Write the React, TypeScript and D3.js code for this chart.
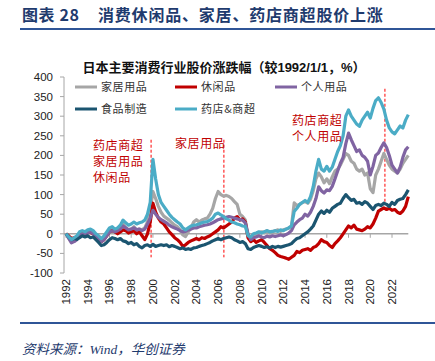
import React from 'react';
import * as d3 from 'd3';

// quarterly readings, starting 1992 Q1 (% change vs 1992/1/1)
const startYear = 1992;
const step = 0.25;

const household = [
  0, -10, -20, -15, -12, -2, 5, 2, 8, 10, 5, -5, -10, -18, -12, 0,
  8, 10, 5, 8, 15, 25, 15, 10, 12, 18, 10, 12, 10, 15, 30, 60,
  108, 90, 70, 55, 45, 40, 35, 28, 22, 18, 10, -3, -7, 5, 15, 30,
  36, 30, 35, 38, 40, 50, 65, 90, 108, 100, 96, 98, 95, 90, 82, 75,
  50, 44, 35, -5, -18, -10, 0, 2, 5, 3, 8, 2, 5, 8, 10, 6,
  10, 12, 15, 20, 79, 72, 75, 80, 82, 78, 88, 110, 140, 155, 145, 130,
  140, 128, 145, 160, 165, 175, 190, 205, 200, 185, 180, 165, 160, 165, 150, 155,
  115, 105, 150, 165, 185, 205, 190, 175, 165, 160, 155, 165, 180, 190, 200,
];

const leisure = [
  0, -5, -12, -10, -8, 0, 5, 0, 5, 3, 0, -8, -12, -20, -15, -5,
  5, 8, 5, 0, 5, 10, 8, 2, 5, 8, 0, 5, -5, -15, 0, 30,
  78, 55, 40, 30, 25, 15, 5, -2, -10, -15, -22, -32, -28, -22, -18, -15,
  -12, -15, -10, -12, -8, -5, 0, 5, 10, 18, 15, 20, 25, 30, 40, 44,
  35, 38, 30, -10, -20, -15, -22, -18, -15, -22, -30, -38, -42, -48, -55, -58,
  -60, -62, -65, -60, -55, -45, -48, -42, -40, -38, -42, -35, -32, -25, -15, -20,
  -22, -30, -35, -25, -18, -10, 0, 10, 20, 15, 22, 12, 10, 8, 12, 18,
  15, 25, 40, 58, 62, 66, 62, 65, 60, 62, 55, 52, 58, 70, 95,
];

const personal = [
  0, -12, -23, -20, -15, -5, 0, -3, 2, 5, 0, -8, -12, -20, -15, -5,
  5, 8, 5, 8, 12, 20, 15, 10, 12, 15, 10, 12, 8, 12, 25, 40,
  60, 50, 42, 36, 32, 28, 22, 18, 15, 12, 8, 5, 6, 10, 12, 15,
  15, 18, 20, 22, 23, 25, 28, 32, 36, 38, 40, 42, 44, 42, 40, 38,
  36, 35, 28, 0, -15, -10, -8, -5, -8, -10, -6, -8, -5, -7, -5, -3,
  -5, -2, 2, 8, 23, 30, 36, 40, 50, 45, 55, 70, 90, 120, 110, 104,
  112, 110, 121, 140, 160, 180, 195, 230, 257, 240, 225, 210, 214, 200, 195, 185,
  150, 172, 200, 206, 220, 232, 220, 200, 175, 165, 155, 170, 195, 214, 222,
];

const food = [
  0, -8, -15, -12, -14, -10, -5, -8, -5, -10, -8, -15, -22, -30, -28, -22,
  -15, -10, -12, -15, -12, -18, -20, -25, -22, -28, -25, -32, -36, -30, -28, -32,
  -27, -32, -30, -28, -30, -28, -33, -30, -32, -35, -38, -36, -40, -38, -40, -36,
  -35, -32, -30, -28, -25, -22, -18, -15, -12, -15, -12, -10, -8, -10, -15, -18,
  -22, -20, -25, -38, -40, -35, -32, -30, -32, -35, -33, -36, -32, -35, -32, -34,
  -32, -30, -28, -25, -18, -12, -10, -5, 0, 5, 12, 20, 35, 50, 58, 52,
  60, 55, 65, 70, 75, 78, 90, 100, 92, 85, 88, 78, 80, 75, 82, 78,
  70, 62, 72, 75, 72, 78, 75, 70, 80, 75, 85, 88, 90, 100, 112,
];

const drugstore = [
  0, -8, -15, -10, -5, 5, 8, 5, 10, 12, 8, 0, -5, -12, -5, 5,
  15, 18, 12, 15, 22, 35, 28, 22, 25, 30, 25, 28, 30, 35, 50, 80,
  190, 140, 100, 80, 70, 60, 50, 42, 36, 30, 25, 15, 10, 15, 20, 22,
  23, 25, 28, 30, 31, 35, 40, 50, 53, 48, 44, 38, 35, 30, 28, 25,
  23, 20, 19, -5, -8, 0, 2, 5, 2, 5, 8, 5, 6, 8, 6, 10,
  8, 12, 15, 20, 57, 65, 75, 80, 85, 80, 95, 120, 160, 190, 165, 160,
  172, 160, 170, 190, 210, 225, 250, 300, 316, 300, 290, 280, 274, 290, 300, 310,
  295, 320, 340, 347, 335, 318, 290, 270, 260, 255, 265, 275, 270, 290, 304,
];

const yTicks = [-100, -50, 0, 50, 100, 150, 200, 250, 300, 350, 400];
const xTickYears = [1992, 1994, 1996, 1998, 2000, 2002, 2004, 2006, 2008, 2010, 2012, 2014, 2016, 2018, 2020, 2022];

// event markers: year, top value, bottom value
const markers = [
  { year: 1999.83, top: 240, bottom: -60 },
  { year: 2006.53, top: 240, bottom: -60 },
  { year: 2021.35, top: 370, bottom: 75 },
];

const series = [
  { name: '家居用品', color: '#A6A6A6', values: household },
  { name: '休闲品', color: '#C00000', values: leisure },
  { name: '个人用品', color: '#8064A2', values: personal },
  { name: '食品制造', color: '#1B5570', values: food },
  { name: '药店&商超', color: '#4BACC6', values: drugstore },
];

const W = 435;
const H = 361;
const cjk = '"Noto Sans CJK SC", sans-serif';
const latin = '"Liberation Sans", Arial, sans-serif';
const navy = '#1F3B6E';
const red = '#C00000';

const App: React.FC = () => {
  const x = d3.scaleLinear().domain([1992, 2022]).range([66, 392]);
  const y = d3.scaleLinear().domain([-100, 400]).range([273, 77]);
  const dates = household.map((_, i) => startYear + i * step);
  const line = d3
    .line<number>()
    .x((_, i) => x(dates[i]))
    .y((d) => y(d));
  const lastX = x(dates[dates.length - 1]);

  const legendPos = [
    [75, 87],
    [175, 87],
    [275, 87],
    [75, 109],
    [175, 109],
  ];

  return (
    <svg width={W} height={H} style={{ position: 'absolute', left: 0, top: 0, background: '#fff' }}>
      {/* header */}
      <text x={22} y={21} fontFamily={cjk} fontSize={16} fontWeight="bold" fill={navy} letterSpacing={0.6}>
        图表 28
      </text>
      <text x={98} y={21} fontFamily={cjk} fontSize={16} fontWeight="bold" fill={navy} letterSpacing={0.8}>
        消费休闲品、家居、药店商超股价上涨
      </text>
      <line x1={20} x2={435} y1={29} y2={29} stroke="#2F5597" strokeWidth={2} />

      <text x={224} y={72} textAnchor="middle" fontFamily={cjk} fontSize={13} fontWeight="bold" fill="#111">
        日本主要消费行业股价涨跌幅（较<tspan fontFamily={latin}>1992/1/1</tspan>，<tspan fontFamily={latin}>%</tspan>）
      </text>

      {/* y axis */}
      <line x1={64} x2={64} y1={y(400)} y2={y(-100)} stroke="#A6A6A6" strokeWidth={1} />
      {yTicks.map((t) => (
        <g key={t}>
          <line x1={60} x2={64} y1={y(t)} y2={y(t)} stroke="#A6A6A6" />
          <text x={53} y={y(t)} dy="0.35em" textAnchor="end" fontFamily={latin} fontSize={11.5} fill="#222">
            {t}
          </text>
        </g>
      ))}

      {/* zero line with year ticks */}
      <line x1={64} x2={lastX} y1={y(0)} y2={y(0)} stroke="#A6A6A6" strokeWidth={1.5} />
      {xTickYears.map((yr) => (
        <g key={yr}>
          <line x1={x(yr)} x2={x(yr)} y1={y(0)} y2={y(0) + 4} stroke="#A6A6A6" />
          <text
            transform={`translate(${x(yr)},${279}) rotate(-90)`}
            dy="0.35em"
            textAnchor="end"
            fontFamily={latin}
            fontSize={11.5}
            fill="#222"
          >
            {yr}
          </text>
        </g>
      ))}

      {/* event markers */}
      {markers.map((m, i) => (
        <line
          key={i}
          x1={x(m.year)}
          x2={x(m.year)}
          y1={y(m.top)}
          y2={y(m.bottom)}
          stroke="#FF0000"
          strokeWidth={1}
          strokeDasharray="3,2"
        />
      ))}

      {/* series */}
      {series.map((s) => (
        <path
          key={s.name}
          d={line(s.values) ?? ''}
          fill="none"
          stroke={s.color}
          strokeWidth={3.2}
          strokeLinejoin="round"
        />
      ))}

      {/* annotations */}
      <g fontFamily={cjk} fontSize={12} fill={red} letterSpacing={0.6}>
        <text x={93} y={150}>药店商超</text>
        <text x={93} y={166}>家居用品</text>
        <text x={93} y={182}>休闲品</text>
        <text x={175} y={148}>家居用品</text>
        <text x={292} y={125}>药店商超</text>
        <text x={292} y={141}>个人用品</text>
      </g>

      {/* legend */}
      {series.map((s, i) => (
        <g key={s.name}>
          <line
            x1={legendPos[i][0]}
            x2={legendPos[i][0] + 22}
            y1={legendPos[i][1]}
            y2={legendPos[i][1]}
            stroke={s.color}
            strokeWidth={3}
          />
          <text
            x={legendPos[i][0] + 26}
            y={legendPos[i][1]}
            dy="0.35em"
            fontFamily={cjk}
            fontSize={11}
            letterSpacing={0.6}
            fill="#333"
          >
            {s.name}
          </text>
        </g>
      ))}

      {/* footer */}
      <line x1={20} x2={435} y1={323} y2={323} stroke="#2F5597" strokeWidth={2} />
      <text x={22} y={354} fontFamily={`"Liberation Serif", ${cjk}`} fontStyle="italic" fontSize={13.5} fill={navy}>
        资料来源：Wind，华创证券
      </text>
    </svg>
  );
};

export default App;
